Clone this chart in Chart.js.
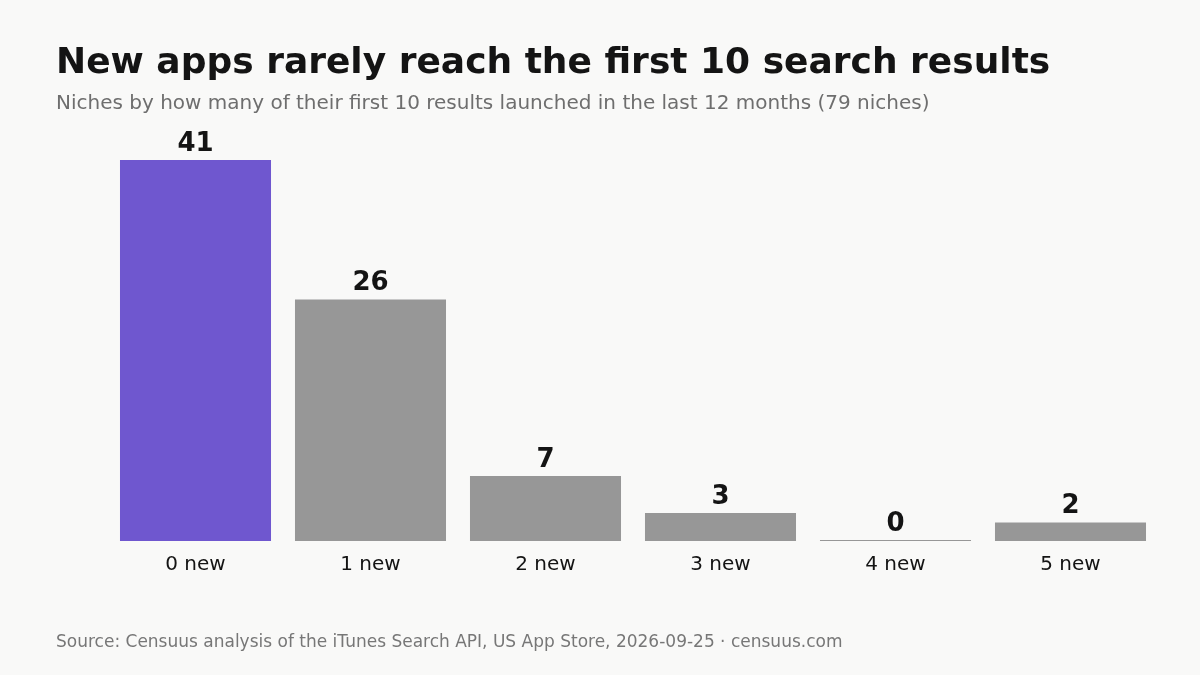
<!DOCTYPE html>
<html lang="en">
<head>
    <meta charset="UTF-8">
    <title>New apps rarely reach the first 10 search results</title>
    <script src="https://cdn.jsdelivr.net/npm/chart.js"></script>
    <style>
        body {
            margin: 0;
            background: #f9f9f8;
            font-family: "DejaVu Sans", sans-serif;
        }
        #wrap {
            position: relative;
            width: 1200px;
            height: 675px;
        }
        #title {
            position: absolute;
            left: 56px;
            top: 40px;
            font-size: 36px;
            font-weight: bold;
            color: #141414;
            white-space: nowrap;
        }
        #subtitle {
            position: absolute;
            left: 56px;
            top: 90px;
            font-size: 20px;
            color: #6e6e6e;
            white-space: nowrap;
        }
        #source {
            position: absolute;
            left: 56px;
            top: 631px;
            font-size: 17px;
            color: #777;
            white-space: nowrap;
        }
        canvas {
            position: absolute;
            left: 0;
            top: 0;
        }
    </style>
</head>
<body>
    <div id="wrap">
        <canvas id="chart" width="1200" height="675"></canvas>
        <div id="title">New apps rarely reach the first 10 search results</div>
        <div id="subtitle">Niches by how many of their first 10 results launched in the last 12 months (79 niches)</div>
        <div id="source">Source: Censuus analysis of the iTunes Search API, US App Store, 2026-09-25 · censuus.com</div>
    </div>

    <script>
        // data
        const categories = ['0 new', '1 new', '2 new', '3 new', '4 new', '5 new'];
        const nicheCounts = [41, 26, 7, 3, 0, 2];
        const highlightIndex = 0;

        const purple = '#6f57cf';
        const grey = '#979797';

        // numbers above each bar
        const valueLabels = {
            id: 'valueLabels',
            afterDatasetsDraw(chart) {
                const ctx = chart.ctx;
                const meta = chart.getDatasetMeta(0);
                ctx.save();
                ctx.font = 'bold 26px "DejaVu Sans", sans-serif';
                ctx.fillStyle = '#141414';
                ctx.textAlign = 'center';
                ctx.textBaseline = 'bottom';
                meta.data.forEach((bar, i) => {
                    ctx.fillText(String(nicheCounts[i]), bar.x, bar.y - 3);
                });
                ctx.restore();
            }
        };

        new Chart(document.getElementById('chart'), {
            type: 'bar',
            data: {
                labels: categories,
                datasets: [{
                    data: nicheCounts,
                    backgroundColor: nicheCounts.map((v, i) => i === highlightIndex ? purple : grey),
                    borderWidth: 0,
                    minBarLength: 1,
                    categoryPercentage: 1,
                    barPercentage: 0.863
                }]
            },
            options: {
                responsive: false,
                animation: false,
                layout: { padding: { left: 108, right: 42, top: 160, bottom: 94 } },
                plugins: {
                    legend: { display: false },
                    tooltip: { enabled: false }
                },
                scales: {
                    x: {
                        grid: { display: false },
                        border: { display: false },
                        ticks: {
                            color: '#141414',
                            padding: 4,
                            font: { family: '"DejaVu Sans", sans-serif', size: 20 }
                        }
                    },
                    y: {
                        display: false,
                        min: 0,
                        max: 41
                    }
                }
            },
            plugins: [valueLabels]
        });
    </script>
</body>
</html>
